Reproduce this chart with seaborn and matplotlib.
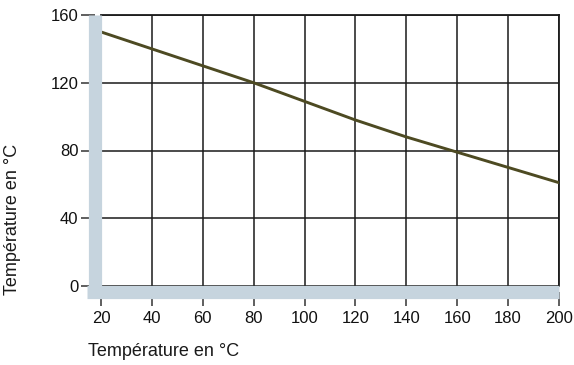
import matplotlib
matplotlib.use("Agg")
import matplotlib.pyplot as plt
import seaborn as sns
import pandas as pd

# Data
x_temp = [20, 40, 60, 80, 100, 120, 140, 160, 180, 200]
y_temp = [150, 140, 130, 120, 109, 98, 88, 79, 70, 61]
x_ticks = [20, 40, 60, 80, 100, 120, 140, 160, 180, 200]
y_ticks = [0, 40, 80, 120, 160]
x_label = "Température en °C"
y_label = "Température en °C"

df = pd.DataFrame({"x": x_temp, "y": y_temp})

sns.set_style("white")
plt.rcParams["font.family"] = ["Liberation Sans", "DejaVu Sans"]

band = "#c6d4de"
line_col = "#4d4a22"

fig = plt.figure(figsize=(5.74, 3.65), dpi=100)
fig.patch.set_facecolor("white")
ax = fig.add_axes([101 / 574, 1 - 286 / 365, 458 / 574, 271 / 365])

sns.lineplot(data=df, x="x", y="y", ax=ax, color=line_col, linewidth=2.1, zorder=3)

ax.set_xlim(20, 200)
ax.set_ylim(0, 160)
ax.set_xticks(x_ticks)
ax.set_yticks(y_ticks)
ax.set_xlabel("")
ax.set_ylabel("")

# grid
ax.grid(True, color="#1a1a1a", linewidth=1.1)
ax.set_axisbelow(True)

# thick light-blue outward spines
for side in ["left", "bottom"]:
    sp = ax.spines[side]
    sp.set_visible(True)
    sp.set_color(band)
    sp.set_linewidth(9.5)
    sp.set_capstyle("butt")
    sp.set_position(("outward", 4.3))
    sp.set_zorder(4)
ax.spines["left"].set_bounds(-6.8, 160)
ax.spines["bottom"].set_bounds(14.6, 200)
for side in ["top", "right"]:
    sp = ax.spines[side]
    sp.set_visible(True)
    sp.set_color("#1a1a1a")
    sp.set_linewidth(1.3)

ax.tick_params(axis="both", which="both", direction="out", length=10,
               width=1.1, color="#333333", labelsize=12, labelcolor="#111111")
ax.tick_params(axis="x", pad=4, bottom=True)
ax.tick_params(axis="y", pad=2, left=True)

fig.text(88 / 574, 1 - 352 / 365, x_label, fontsize=13, color="#1a1a1a",
         ha="left", va="center")
fig.text(13 / 574, 1 - 219 / 365, y_label, fontsize=13, color="#1a1a1a",
         ha="center", va="center", rotation=90)

fig.savefig("out.png", dpi=100, facecolor="white")
